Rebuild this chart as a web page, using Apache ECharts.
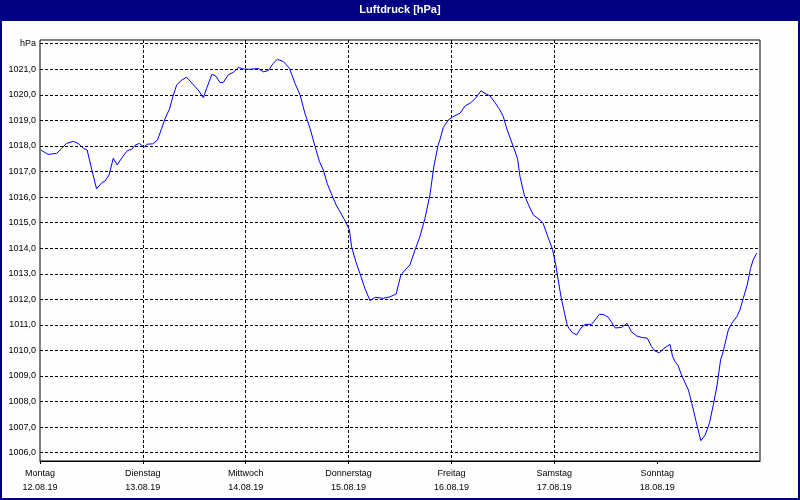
<!DOCTYPE html>
<html><head><meta charset="utf-8">
<script src="https://cdn.jsdelivr.net/npm/echarts@6/dist/echarts.min.js"></script>
<style>html,body{margin:0;padding:0;background:#fff}#c{width:800px;height:500px}</style>
</head><body><div id="c"></div><script>
const chartTitle = 'Luftdruck [hPa]';
const dayNames = ['Montag', 'Dienstag', 'Mittwoch', 'Donnerstag', 'Freitag', 'Samstag', 'Sonntag'];
const dayDates = ['12.08.19', '13.08.19', '14.08.19', '15.08.19', '16.08.19', '17.08.19', '18.08.19'];
const yUnitLabel = 'hPa';
// hours since Montag 12.08.19 00:00
const hours = [0.2,1.9,3.9,5.1,6.2,7.8,8.9,10.1,11.0,12.1,13.2,14.4,15.2,16.1,17.1,18.0,19.3,20.4,21.4,22.2,23.2,24.3,25.0,26.3,27.4,28.4,29.2,30.2,31.0,31.9,33.1,34.2,35.8,36.9,38.1,38.9,40.1,41.0,42.0,42.8,43.9,45.1,46.3,47.4,49.0,50.9,52.1,53.3,54.4,55.4,56.8,58.2,59.5,60.7,61.8,63.0,64.2,65.2,66.1,67.0,68.1,69.1,70.2,71.4,72.2,72.7,73.7,74.9,75.8,77.0,78.2,80.1,81.7,83.1,84.2,85.2,86.3,87.5,88.7,89.8,91.0,91.9,92.9,93.3,94.1,94.5,95.3,96.4,98.0,99.2,100.4,101.6,102.9,103.8,105.0,106.2,107.3,108.1,109.0,110.3,111.4,112.0,113.0,114.0,115.1,116.7,117.4,118.6,119.6,120.4,120.9,121.6,122.4,123.0,123.4,124.2,125.2,126.2,127.2,128.7,129.5,130.5,131.4,132.6,133.4,134.2,135.7,137.0,138.0,139.2,140.4,141.7,142.7,143.5,144.5,145.6,147.0,147.6,148.2,148.9,149.7,150.5,151.3,152.1,153.1,154.2,155.2,156.2,157.1,158.0,158.8,159.4,160.6,161.4,162.6,163.3,164.1,165.0,165.8,166.4,167.2];
const pressure = [1017.84,1017.67,1017.71,1017.91,1018.10,1018.18,1018.10,1017.91,1017.84,1017.06,1016.32,1016.56,1016.63,1016.86,1017.52,1017.26,1017.58,1017.82,1017.87,1018.03,1018.10,1017.95,1018.07,1018.08,1018.23,1018.69,1019.08,1019.44,1019.93,1020.39,1020.58,1020.69,1020.39,1020.19,1019.89,1020.26,1020.80,1020.74,1020.48,1020.49,1020.78,1020.88,1021.07,1021.01,1021.00,1021.03,1020.90,1020.95,1021.23,1021.39,1021.30,1021.04,1020.45,1019.99,1019.28,1018.69,1017.97,1017.39,1017.06,1016.54,1016.08,1015.69,1015.37,1015.00,1014.71,1014.06,1013.47,1012.89,1012.43,1011.95,1012.08,1012.04,1012.10,1012.21,1012.95,1013.15,1013.34,1013.93,1014.48,1015.15,1016.10,1017.20,1018.04,1018.23,1018.72,1018.82,1019.02,1019.15,1019.28,1019.57,1019.68,1019.86,1020.16,1020.06,1019.96,1019.69,1019.41,1019.15,1018.63,1018.04,1017.52,1016.80,1016.08,1015.69,1015.30,1015.10,1014.97,1014.40,1013.95,1013.30,1012.76,1012.07,1011.45,1011.00,1010.87,1010.70,1010.61,1010.87,1011.02,1011.02,1011.19,1011.41,1011.41,1011.30,1011.09,1010.88,1010.90,1011.06,1010.73,1010.57,1010.51,1010.48,1010.15,1009.98,1009.91,1010.08,1010.24,1009.76,1009.56,1009.40,1009.04,1008.74,1008.45,1007.93,1007.21,1006.47,1006.69,1007.15,1007.87,1008.65,1009.63,1009.95,1010.80,1011.06,1011.32,1011.58,1012.04,1012.56,1013.21,1013.54,1013.80];
const yMin = 1006, yMax = 1022, yStep = 1;
const hoursPerDay = 24, totalHours = 168;
const dayTicks = dayNames.map((d, i) => i * hoursPerDay);

const font = 'Liberation Sans';
const dash = { type: [3, 2], color: '#000', width: 1 };
const chart = echarts.init(document.getElementById('c'), null, { renderer: 'canvas' });
chart.setOption({
  backgroundColor: '#fdfefd',
  animation: false,
  title: {
    text: chartTitle, left: 'center', top: 3, padding: 0,
    textStyle: { color: '#fff', fontSize: 11, fontWeight: 'bold', fontFamily: font, lineHeight: 13 }
  },
  graphic: [
    { type: 'rect', z: -1, shape: { x: 0, y: 0, width: 800, height: 21 }, style: { fill: '#000080' } },
    { type: 'rect', z: -1, shape: { x: 1, y: 1, width: 798, height: 498 }, style: { fill: 'none', stroke: '#000080', lineWidth: 2 } }
  ],
  grid: [
    { left: 40, right: 40, top: 40, bottom: 39, show: true, borderColor: '#000', borderWidth: 1, backgroundColor: 'transparent' },
    { left: 40, right: 40, top: 43.7, bottom: 47.3 }
  ],
  xAxis: [
    {
      gridIndex: 0, type: 'value', min: 0, max: totalHours, interval: hoursPerDay,
      axisLine: { show: true, lineStyle: { color: '#000', width: 1 } },
      axisTick: { show: true, length: 3, customValues: dayTicks, lineStyle: { color: '#000' } },
      splitLine: { show: true, showMinLine: false, showMaxLine: false, lineStyle: dash },
      axisLabel: {
        margin: 6, color: '#000', fontSize: 9, fontFamily: font, lineHeight: 14,
        formatter: v => { const i = Math.round(v / hoursPerDay); return i < dayNames.length ? dayNames[i] + '\n' + dayDates[i] : ''; }
      }
    },
    { gridIndex: 1, type: 'value', min: 0, max: totalHours, show: false }
  ],
  yAxis: [
    { gridIndex: 0, type: 'value', min: 0, max: 1, show: false },
    {
      gridIndex: 1, type: 'value', min: yMin, max: yMax, interval: yStep,
      axisLine: { show: false }, axisTick: { show: false },
      splitLine: { show: true, lineStyle: dash },
      axisLabel: {
        margin: 4, color: '#000', fontSize: 9, fontFamily: font,
        formatter: v => v === yMax ? yUnitLabel : v.toFixed(1).replace('.', ',')
      }
    }
  ],
  series: [{
    type: 'line', xAxisIndex: 1, yAxisIndex: 1, showSymbol: false, symbol: 'none',
    lineStyle: { color: '#0000ff', width: 1 },
    data: hours.map((h, i) => [h, pressure[i]])
  }]
});
</script></body></html>
